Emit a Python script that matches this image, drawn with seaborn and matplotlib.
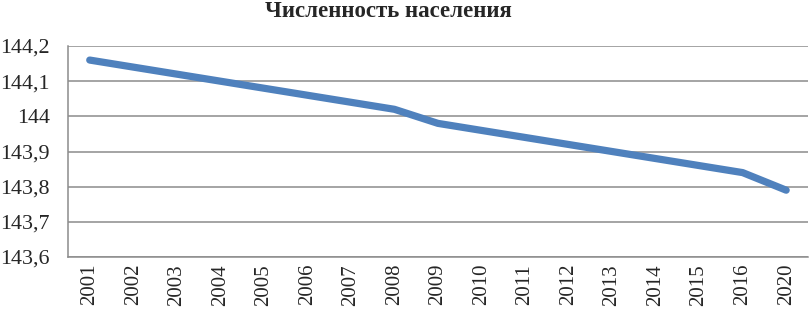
import matplotlib
matplotlib.use("Agg")
import matplotlib.pyplot as plt
import seaborn as sns
import pandas as pd
import numpy as np

# Данные (млн человек)
years = ["2001", "2002", "2003", "2004", "2005", "2006", "2007", "2008", "2009",
         "2010", "2011", "2012", "2013", "2014", "2015", "2016", "2020"]
population = [144.16, 144.14, 144.12, 144.10, 144.08, 144.06, 144.04, 144.02, 143.98,
              143.96, 143.94, 143.92, 143.90, 143.88, 143.86, 143.84, 143.79]
y_ticks = [143.6, 143.7, 143.8, 143.9, 144.0, 144.1, 144.2]
y_tick_labels = ["143,6", "143,7", "143,8", "143,9", "144", "144,1", "144,2"]
title = "Численность населения"

df = pd.DataFrame({"year": years, "pop": population})

sns.set_style("white")
plt.rcParams["font.family"] = ["Liberation Serif", "DejaVu Serif"]

grid_col = "#8c8c8c"
fig = plt.figure(figsize=(8.12, 3.14), dpi=100)
ax = fig.add_axes([0.0837, 0.1815, 0.9113, 0.672])

sns.lineplot(data=df, x="year", y="pop", ax=ax, color="#4F81BD", linewidth=5.2,
             solid_capstyle="round", solid_joinstyle="round", sort=False)

n = len(years)
ax.set_xlim(-0.5, n - 0.5)
ax.set_ylim(143.6, 144.2)
ax.set_yticks(y_ticks)
ax.set_yticklabels(y_tick_labels, fontsize=15.8)
ax.set_xticks(np.arange(n))
ax.set_xticklabels(years, rotation=90, fontsize=15)
ax.set_xticks(np.arange(n + 1) - 0.5, minor=True)
ax.tick_params(axis="x", which="major", length=0, pad=5)
ax.tick_params(axis="x", which="minor", length=5, width=1.1, color=grid_col, direction="out")
ax.tick_params(axis="y", length=5, width=1.1, color=grid_col, direction="out", pad=8)
ax.set_xlabel("")
ax.set_ylabel("")

ax.grid(axis="y", color=grid_col, linewidth=1.1)
ax.set_axisbelow(True)
for s in ["top", "right"]:
    ax.spines[s].set_visible(False)
for s in ["left", "bottom"]:
    ax.spines[s].set_color(grid_col)
    ax.spines[s].set_linewidth(1.1)

fig.text(0.478, 0.962, title, ha="center", va="center", fontsize=16.5, fontweight="bold")

fig.savefig("out.png", dpi=100)
